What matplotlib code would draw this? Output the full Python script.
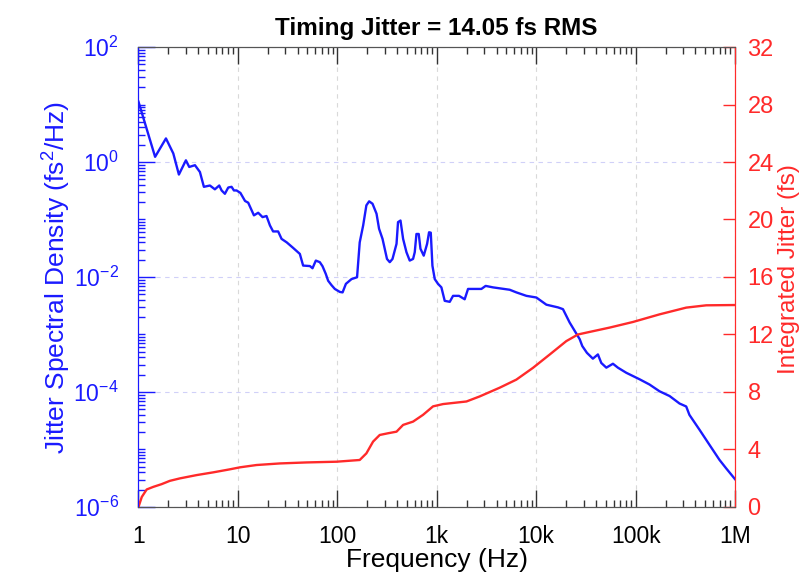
import numpy as np
import matplotlib
matplotlib.use("Agg")
import matplotlib.pyplot as plt
from matplotlib.ticker import FixedLocator, LogLocator, FuncFormatter, NullFormatter, MultipleLocator

plt.rcParams['font.family'] = ['Liberation Sans', 'DejaVu Sans']
plt.rcParams['mathtext.default'] = 'regular'

# jitter spectral density (fs^2/Hz)
psd_freq = [1, 1.47, 1.89, 2.24, 2.55, 3.0, 3.24, 3.7, 4.15, 4.55, 5.23, 5.87, 6.49, 6.86,
            7.4, 8.0, 8.64, 9.12, 9.7, 10.6, 11.8, 12.7, 14.5, 16.0, 17.7, 19.4, 21.0, 22.6,
            25.4, 27.5, 31, 36, 42, 45.3, 53, 56.3, 60.8, 66.7, 71, 76.6, 80.9, 87.5, 94.4,
            106, 113, 122, 139, 158, 168, 182, 196, 209, 226, 248, 263, 285, 316, 337, 359,
            394, 408, 432, 459, 496, 535, 578, 601, 625, 659, 686, 740, 800, 837, 871, 905,
            955, 1030, 1114, 1203, 1352, 1459, 1676, 1910, 2065, 2317, 2813, 3105, 3680,
            5420, 6320, 7980, 10040, 12670, 16600, 18600, 21700, 25000, 27400, 29100, 32400,
            37200, 41800, 45200, 50800, 59200, 66400, 80600, 110000, 138000, 174000, 220000,
            277000, 323000, 348000, 440000, 553000, 698000, 815000, 1000000]
psd_val = [11.2, 1.23, 2.57, 1.41, 0.605, 1.07, 0.82, 0.88, 0.67, 0.37, 0.39, 0.335, 0.39, 0.32,
           0.28, 0.36, 0.37, 0.32, 0.32, 0.29, 0.21, 0.196, 0.118, 0.131, 0.110, 0.115, 0.079, 0.062,
           0.062, 0.046, 0.040, 0.032, 0.0252, 0.0158, 0.0155, 0.0142, 0.0193, 0.0181, 0.0154, 0.0113, 0.0086, 0.0072, 0.0062,
           0.0055, 0.0054, 0.0076, 0.0092, 0.0099, 0.040, 0.079, 0.176, 0.207, 0.188, 0.126, 0.069, 0.046, 0.0206, 0.0181, 0.0206,
           0.0377, 0.090, 0.096, 0.046, 0.027, 0.0193, 0.0206, 0.027, 0.056, 0.056, 0.031, 0.0235, 0.0377, 0.060, 0.059, 0.0157,
           0.0092, 0.0076, 0.0066, 0.00385, 0.0037, 0.0047, 0.0047, 0.0041, 0.0062, 0.0062, 0.0062, 0.0070, 0.0066,
           0.0060, 0.0054, 0.0047, 0.0044, 0.0033, 0.00296, 0.00276, 0.00162, 0.00108, 0.00083, 0.00063, 0.00048,
           0.00038, 0.00045, 0.00032, 0.000265, 0.00031, 0.000265, 0.000216, 0.000166, 0.000135, 0.000103, 8.5e-5,
           6.3e-5, 5.6e-5, 4.0e-5, 2.2e-5, 1.21e-5, 6.6e-6, 4.7e-6, 3.05e-6]

# integrated jitter (fs)
int_freq = [1, 1.08, 1.21, 1.41, 1.71, 2.07, 2.61, 3.85, 5.65, 8.3, 10.5, 15.4, 26.4, 49, 98,
            168, 196, 229, 267, 324, 394, 459, 578, 728, 918, 1157, 1990, 2700, 4300, 6320,
            9290, 13700, 20100, 26300, 32000, 54800, 94000, 174000, 323000, 514000, 1000000]
int_val = [0, 0.7, 1.22, 1.40, 1.59, 1.82, 1.99, 2.22, 2.41, 2.62, 2.76, 2.92, 3.03, 3.1, 3.15,
           3.27, 3.73, 4.55, 5.01, 5.13, 5.24, 5.71, 5.94, 6.41, 7.0, 7.16, 7.34, 7.69, 8.3, 8.86,
           9.68, 10.61, 11.54, 12.0, 12.13, 12.48, 12.87, 13.4, 13.87, 14.03, 14.05]

xtick_vals = [1, 10, 100, 1e3, 1e4, 1e5, 1e6]
xtick_labels = ['1', '10', '100', '1k', '10k', '100k', '1M']

blue = '#1a1aff'
red = '#ff2a2a'

fig = plt.figure(figsize=(7.99, 5.76), dpi=100)
ax = fig.add_axes([0.1733, 0.1198, 0.7466, 0.7986])
ax2 = ax.twinx()

ax.plot(psd_freq, psd_val, color=blue, lw=1.7, zorder=3)
ax2.plot(int_freq, int_val, color=red, lw=1.7)

ax.set_xscale('log')
ax.set_yscale('log')
ax.set_xlim(1, 1e6)
ax.set_ylim(1e-6, 1e2)
ax2.set_ylim(0, 32)

# x axis
ax.xaxis.set_major_locator(FixedLocator(xtick_vals))
ax.set_xticklabels(xtick_labels)
ax.xaxis.set_minor_locator(LogLocator(base=10, subs=np.arange(2, 10), numticks=20))
ax.xaxis.set_minor_formatter(NullFormatter())
ax.tick_params(axis='x', which='major', direction='in', length=12, width=1, color='#333333',
               top=True, labelsize=16.5, pad=13)
ax.tick_params(axis='x', which='minor', direction='in', length=5, width=1, color='#333333', top=True)

# left axis
ax.yaxis.set_major_locator(FixedLocator([1e-6, 1e-4, 1e-2, 1e0, 1e2]))
ax.yaxis.set_major_formatter(FuncFormatter(lambda v, p: '$10^{%d}$' % round(np.log10(v))))
ax.yaxis.set_minor_locator(LogLocator(base=10, subs=np.arange(1, 10), numticks=20))
ax.yaxis.set_minor_formatter(NullFormatter())
ax.tick_params(axis='y', which='major', direction='in', length=12, width=1, color=blue,
               labelcolor=blue, labelsize=16.5, pad=14, right=False)
ax.tick_params(axis='y', which='minor', direction='in', length=5, width=1, color=blue, right=False)

# right axis
ax2.yaxis.set_major_locator(MultipleLocator(4))
ax2.tick_params(axis='y', direction='in', length=9, width=1, color=red, labelcolor=red,
                labelsize=17, pad=9)

ax.grid(True, which='major', axis='x', color='#d9d9d9', ls=(0, (4, 4)), lw=0.8)
ax.grid(True, which='major', axis='y', color='#d0d0f8', ls=(0, (4, 4)), lw=0.8)

for a in (ax, ax2):
    a.spines['top'].set_color('#555555')
    a.spines['bottom'].set_color('#555555')
    a.spines['left'].set_color(blue)
    a.spines['right'].set_color(red)

ax.set_xlabel('Frequency (Hz)', fontsize=19, labelpad=0)
ax.set_ylabel('Jitter Spectral Density (fs$^2$/Hz)', fontsize=19, color=blue, labelpad=0)
ax2.set_ylabel('Integrated Jitter (fs)', fontsize=17.5, color=red, labelpad=3)
ax2.yaxis.set_label_coords(1.072, 0.517)
ax.set_title('Timing Jitter = 14.05 fs RMS', fontsize=17.5, fontweight='bold', pad=9)

fig.savefig('out.png', dpi=100)
